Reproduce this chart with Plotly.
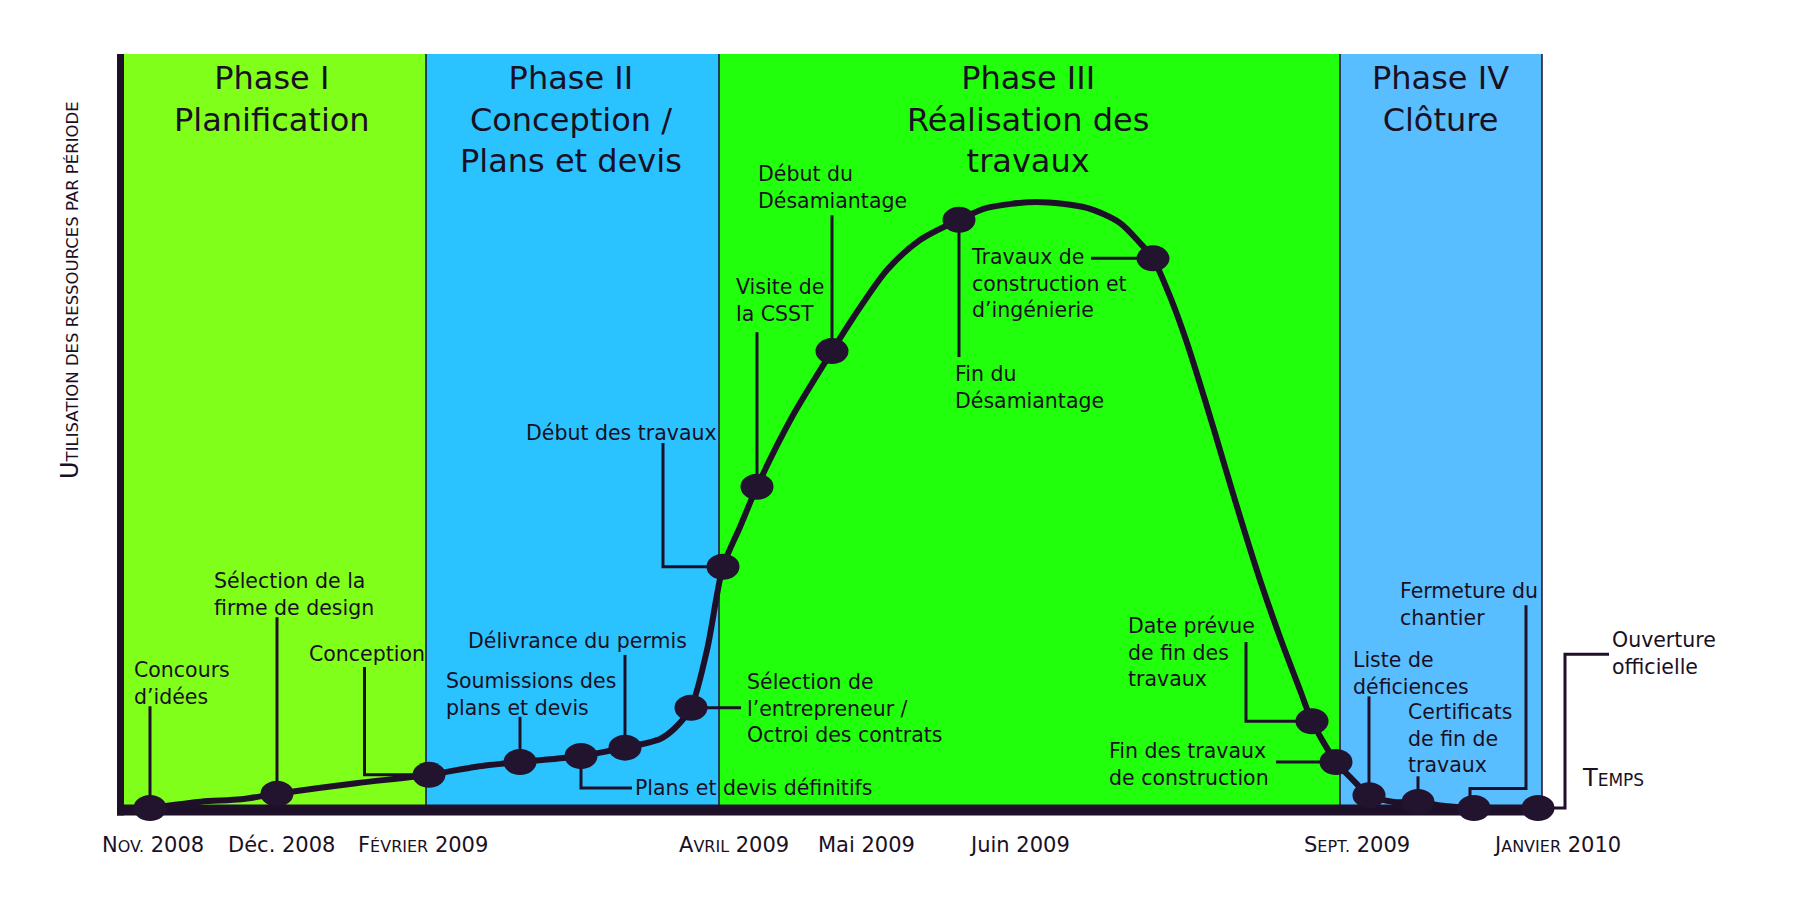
import plotly.graph_objects as go

# ---------------- data ----------------
PHASE_NAMES = ["Phase I<br>Planification",
               "Phase II<br>Conception /<br>Plans et devis",
               "Phase III<br>Réalisation des<br>travaux",
               "Phase IV<br>Clôture"]
PHASE_EDGES = [0.0, 30.6, 59.9, 122.0, 142.2]

TICK_X = [3.25, 16.1, 30.25, 61.35, 74.6, 89.9, 123.7, 143.7]
TICK_TEXT = ["N<span style='font-size:16px'>OV.</span> 2008",
             "Déc. 2008",
             "F<span style='font-size:16px'>ÉVRIER</span> 2009",
             "A<span style='font-size:16px'>VRIL</span> 2009",
             "Mai 2009",
             "Juin 2009",
             "S<span style='font-size:16px'>EPT.</span> 2009",
             "J<span style='font-size:16px'>ANVIER</span> 2010"]

# resource-usage curve (time units, usage level)
CURVE_X = [3.0, 8.1, 12.1, 15.7, 23.6, 30.9, 35.65, 40.0, 46.1, 50.5, 54.0, 55.5,
           57.1, 58.7, 60.3, 62.0, 63.7, 67.2, 71.2, 73.3, 76.7, 80.0, 83.9,
           86.7, 91.7, 96.7, 100.0, 102.0, 103.3, 104.9, 106.6, 108.5, 110.3,
           112.1, 114.0, 116.1, 118.0, 119.2, 121.6, 123.3, 124.9, 127.4, 129.8,
           132.5, 135.4, 141.8]
CURVE_Y = [0.0, 0.84, 1.15, 1.9, 3.28, 4.4, 5.48, 6.1, 6.9, 8.0, 9.15, 10.61,
           13.3, 20.95, 32.0, 37.27, 42.6, 51.86, 60.6, 64.99, 71.35, 75.33, 78.0,
           79.58, 80.37, 79.58, 77.59, 74.93, 72.9, 68.17, 62.07, 54.11, 46.15,
           38.2, 30.24, 22.28, 15.65, 11.5, 6.1, 3.71, 1.7, 0.8, 0.8,
           0.27, 0.0, 0.0]

MILESTONES = ["Concours<br>d’idées",
              "Sélection de la<br>firme de design",
              "Conception",
              "Soumissions des<br>plans et devis",
              "Plans et devis définitifs",
              "Délivrance du permis",
              "Sélection de<br>l’entrepreneur /<br>Octroi des contrats",
              "Début des travaux",
              "Visite de<br>la CSST",
              "Début du<br>Désamiantage",
              "Fin du<br>Désamiantage",
              "Travaux de<br>construction et<br>d’ingénierie",
              "Date prévue<br>de fin des<br>travaux",
              "Fin des travaux<br>de construction",
              "Liste de<br>déficiences",
              "Certificats<br>de fin de<br>travaux",
              "Fermeture du<br>chantier",
              "Ouverture<br>officielle"]
MS_X = [3.0, 15.7, 30.9, 40.0, 46.1, 50.5, 57.1, 60.3, 63.7, 71.2, 83.9, 103.3,
        119.2, 121.6, 124.9, 129.8, 135.4, 141.8]
MS_Y = [0.0, 1.9, 4.4, 6.1, 6.9, 8.0, 13.3, 32.0, 42.6, 60.6, 78.0, 72.9,
        11.5, 6.1, 1.7, 0.8, 0.0, 0.0]

# ---------------- layout helpers (label placement) ----------------
LABEL_POS = [(1.2, 16.55), (9.2, 28.36), (18.7, 20.4), (32.4, 15.1), (51.3, 2.65),
             (34.6, 22.2), (62.45, 13.2), (40.35, 49.8), (61.36, 67.3), (63.55, 82.3),
             (83.28, 55.8), (84.9, 69.5), (100.56, 20.6), (98.67, 5.8), (123.06, 17.9),
             (128.6, 9.2), (127.8, 27.0), (149.0, 20.5)]
VIA = [[(3.0, 13.5)],
       [(15.7, 25.3)],
       [(24.45, 18.7), (24.45, 4.4)],
       [(40.0, 12.1)],
       [(51.2, 2.65), (46.1, 2.65)],
       [(50.5, 20.3)],
       [(62.1, 13.3)],
       [(54.3, 48.4), (54.3, 32.0)],
       [(63.7, 63.1)],
       [(71.2, 78.6)],
       [(83.9, 59.8)],
       [(97.1, 72.9)],
       [(112.6, 22.0), (112.6, 11.5)],
       [(115.6, 6.1)],
       [(124.9, 14.8)],
       [(129.8, 4.2)],
       [(140.6, 26.9), (140.6, 2.6), (135.0, 2.6), (135.0, 0.0)],
       [(148.9, 20.4), (144.5, 20.4), (144.5, 0.0)]]

PHASE_COLORS = ["#80FF1A", "#2AC3FF", "#22FF0C", "#59BEFF"]
PHASE_TITLE_X = [15.2, 45.1, 90.8, 132.0]
DARK = "#1E1028"
TEXT = "#1A1024"
FONT = "DejaVu Sans"

fig = go.Figure()

shapes = []
# phase bands
for i in range(4):
    shapes.append(dict(type="rect", xref="x", yref="y", layer="below",
                       x0=PHASE_EDGES[i], x1=PHASE_EDGES[i + 1], y0=0, y1=100,
                       fillcolor=PHASE_COLORS[i], line=dict(width=0)))
for e in PHASE_EDGES[1:]:
    shapes.append(dict(type="line", xref="x", yref="y", layer="below",
                       x0=e, x1=e, y0=0, y1=100, line=dict(color=DARK, width=1.5)))

# connectors
for i in range(len(MILESTONES)):
    pts = VIA[i] + [(MS_X[i], MS_Y[i])]
    fig.add_trace(go.Scatter(x=[p[0] for p in pts], y=[p[1] for p in pts],
                             mode="lines", line=dict(color=DARK, width=3),
                             hoverinfo="skip", showlegend=False))

# curve
fig.add_trace(go.Scatter(x=CURVE_X, y=CURVE_Y, mode="lines",
                         line=dict(color=DARK, width=6, shape="spline", smoothing=0.8),
                         hoverinfo="skip", showlegend=False))

# axes
shapes.append(dict(type="line", xref="x", yref="y", layer="above",
                   x0=0.05, x1=0.05, y0=-1.0, y1=100, line=dict(color=DARK, width=7)))
shapes.append(dict(type="line", xref="x", yref="y", layer="above",
                   x0=-0.3, x1=142.6, y0=-0.27, y1=-0.27, line=dict(color=DARK, width=11)))

# milestone markers (ellipses)
for x, y in zip(MS_X, MS_Y):
    shapes.append(dict(type="circle", xref="x", yref="y", layer="above",
                       xsizemode="pixel", ysizemode="pixel", xanchor=x, yanchor=y,
                       x0=-16.5, x1=16.5, y0=-13, y1=13,
                       fillcolor="#22132E", line=dict(width=0)))

annotations = []
for name, x in zip(PHASE_NAMES, PHASE_TITLE_X):
    annotations.append(dict(x=x, y=99.6, xref="x", yref="y", text=name,
                            showarrow=False, xanchor="center", yanchor="top",
                            align="center", font=dict(family=FONT, size=32, color=TEXT)))
for name, (lx, ly) in zip(MILESTONES, LABEL_POS):
    annotations.append(dict(x=lx, y=ly, xref="x", yref="y", text=name,
                            showarrow=False, xanchor="left", yanchor="middle",
                            align="left", font=dict(family=FONT, size=20.5, color=TEXT)))
for tx, tt in zip(TICK_X, TICK_TEXT):
    annotations.append(dict(x=tx, y=-4.9, xref="x", yref="y", text=tt,
                            showarrow=False, xanchor="center", yanchor="middle",
                            font=dict(family=FONT, size=21, color=TEXT)))
annotations.append(dict(x=146.0, y=4.0, xref="x", yref="y",
                        text="T<span style='font-size:17px'>EMPS</span>",
                        showarrow=False, xanchor="left", yanchor="middle",
                        font=dict(family=FONT, size=24, color=TEXT)))
annotations.append(dict(x=-5.0, y=68.7, xref="x", yref="y", textangle=-90,
                        text="U<span style='font-size:16.5px'>TILISATION DES RESSOURCES PAR PÉRIODE</span>",
                        showarrow=False, xanchor="center", yanchor="middle",
                        font=dict(family=FONT, size=24, color=TEXT)))

fig.update_layout(
    width=1800, height=900,
    margin=dict(l=0, r=0, t=0, b=0),
    paper_bgcolor="white", plot_bgcolor="white",
    xaxis=dict(range=[-12, 168], visible=False, fixedrange=True),
    yaxis=dict(range=[-12.2016, 107.16], visible=False, fixedrange=True),
    shapes=shapes, annotations=annotations, showlegend=False,
)

fig.write_html("out.html", config={"displayModeBar": False},
               post_script="document.body.style.margin='0';document.body.style.overflow='hidden';")
